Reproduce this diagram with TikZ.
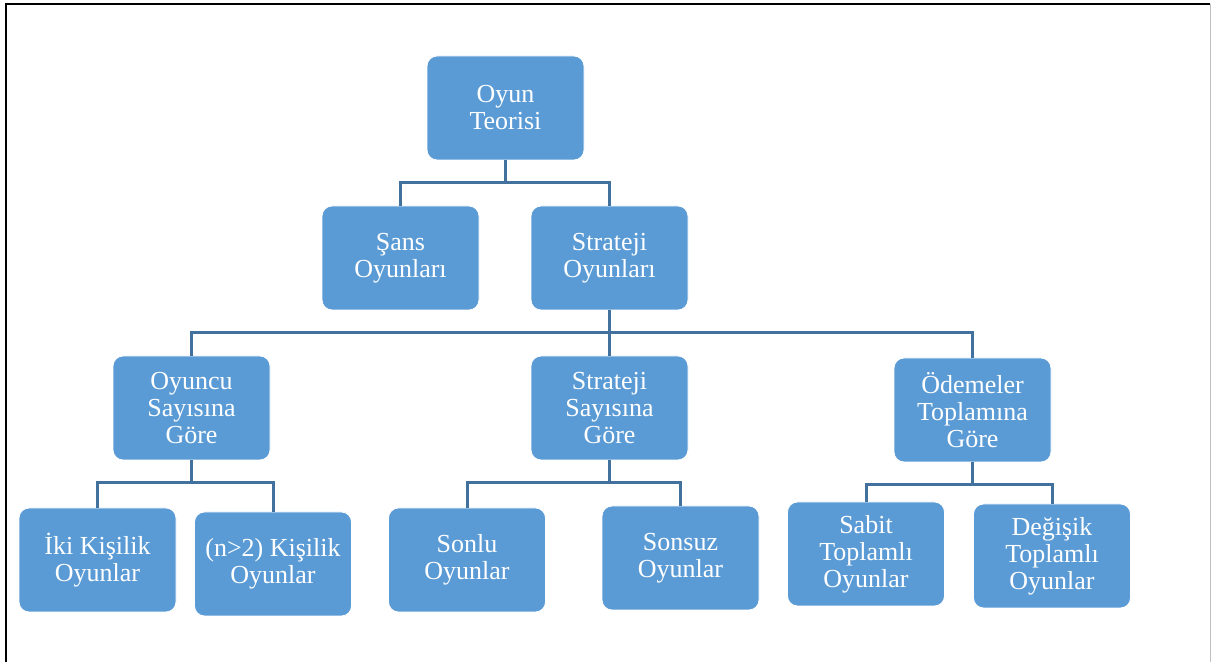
\documentclass[tikz,border=0pt]{standalone}
\usepackage{fontspec}
\setmainfont{Liberation Serif}
\usetikzlibrary{positioning}
\definecolor{gtfill}{HTML}{5B9BD5}
\definecolor{gtline}{HTML}{41719C}

\begin{document}
\begin{tikzpicture}[x=0.5pt, y=-0.5pt]
  \newcommand\boxw{78.5pt}
  \newcommand\boxh{52pt}
  \newcommand\drop{22}

  \tikzset{gtbox/.style={draw=white, line width=0.4pt, fill=gtfill, rounded corners=5pt, minimum width=\boxw, minimum height=\boxh, inner sep=1pt, text=white, align=center, font=\fontsize{13}{13.5}\selectfont}}
  \tikzset{gtlink/.style={draw=gtline, line width=1.5pt}}

  \useasboundingbox (0,0) rectangle (1212,662);
  % frame
  \draw[line width=1pt] (6,662) -- (6,4) -- (1210,4);
  \draw[black!25, line width=0.5pt] (1210,4) -- (1210,662);

  % top levels
  \node[gtbox] at (505.5, 108) (root) {Oyun\\Teorisi};
  \node[gtbox] at (400.5, 258) (sans) {Şans\\Oyunları};
  \node[gtbox] at (609.5, 258) (strat) {Strateji\\Oyunları};

  % by what
  \foreach \name/\x/\y/\txt in {oyuncu/191.5/408/{Oyuncu\\Sayısına\\Göre}, ssay/609.5/408/{Strateji\\Sayısına\\Göre}, odeme/972.5/410/{Ödemeler\\Toplamına\\Göre}}{
    \node[gtbox] at (\x, \y) (\name) {\txt};
  }

  % leaves
  \foreach \name/\x/\y/\txt in {iki/97.5/560/{İki Kişilik\\Oyunlar}, nkisi/273/564/{(n>2) Kişilik\\Oyunlar}, sonlu/467/560/{Sonlu\\Oyunlar}, sonsuz/680.5/558/{Sonsuz\\Oyunlar}, sabit/866/554/{Sabit\\Toplamlı\\Oyunlar}, degisik/1052/556/{Değişik\\Toplamlı\\Oyunlar}}{
    \node[gtbox] at (\x, \y) (\name) {\txt};
  }

  % connectors
  \foreach \p/\c in {root/sans, root/strat, strat/oyuncu, strat/ssay, strat/odeme, oyuncu/iki, oyuncu/nkisi, ssay/sonlu, ssay/sonsuz, odeme/sabit, odeme/degisik}{
    \draw[gtlink] (\p.south) -- ++(0, \drop) -| (\c.north);
  }
\end{tikzpicture}
\end{document}
